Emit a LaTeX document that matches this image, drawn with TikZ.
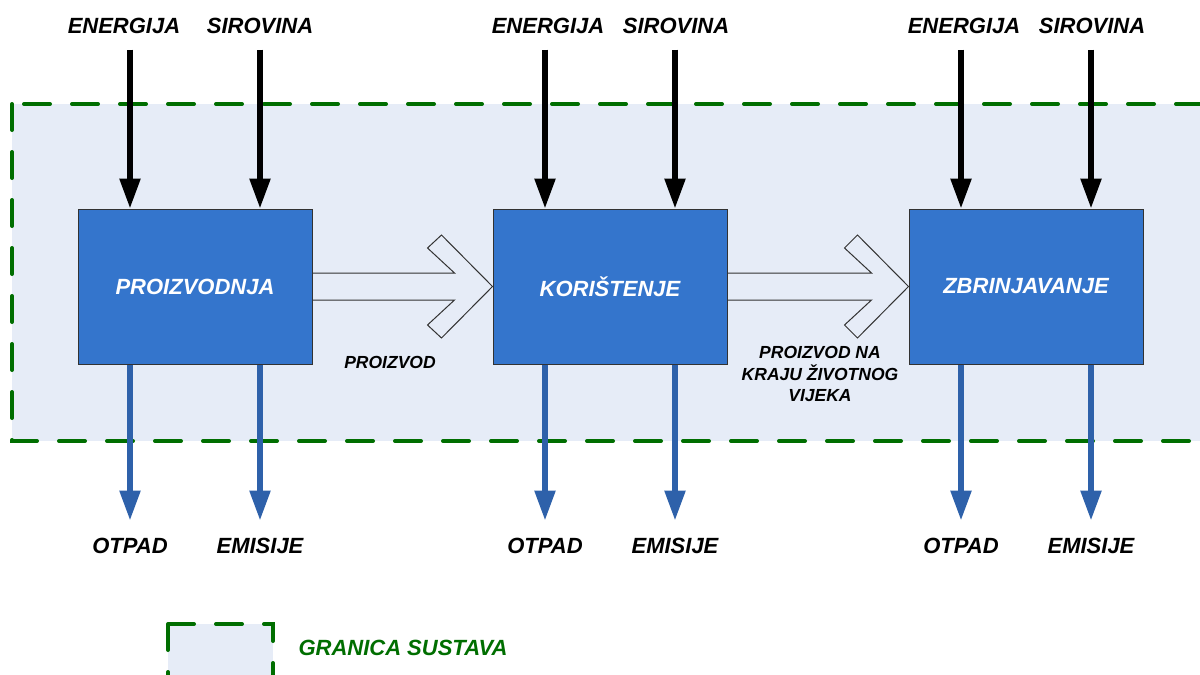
\documentclass[tikz,border=0pt]{standalone}
\usepackage{fontspec}
\setmainfont{Liberation Sans}
\usetikzlibrary{arrows.meta,calc}
\definecolor{bgblue}{RGB}{230,236,247}
\definecolor{boxblue}{RGB}{52,117,204}
\definecolor{outblue}{RGB}{46,97,170}
\definecolor{sysgreen}{RGB}{0,110,0}
\definecolor{edgegray}{RGB}{50,50,50}
\begin{document}
\begin{tikzpicture}[x=1pt,y=-1pt,
 big/.style={font=\fontsize{22}{25}\selectfont\bfseries\itshape},
 small/.style={font=\fontsize{17.5}{21.5}\selectfont\bfseries\itshape, align=center},
 proc/.style={draw=edgegray, line width=1pt, fill=boxblue, minimum width=234pt, minimum height=155pt, inner sep=0pt, text=white, big},
 inarrow/.style={line width=5.5pt, draw=black, -{Triangle[width=20pt,length=30pt]}},
 outarrow/.style={line width=5.5pt, draw=outblue, -{Triangle[width=20pt,length=30pt]}},
 boundary/.style={draw=sysgreen, line width=4pt, line cap=round, dash pattern=on 26pt off 22pt, fill=bgblue},
]
\useasboundingbox (0,0) rectangle (1200,675);
\clip (0,0) rectangle (1200,675);

% system boundary
\draw[boundary] (12,104) rectangle (1230,441);
% legend
\draw[boundary] (168,624) rectangle (273,700);
\node[big, text=sysgreen] (leg) at (403,648) {GRANICA SUSTAVA};

% process boxes
\node[proc] (p1) at (195,286.5) {PROIZVODNJA};
\node[proc] (p2) at (610,286.5) {KORIŠTENJE};
\node[proc] (p3) at (1026,286.5) {ZBRINJAVANJE};

% hollow flow arrows
\foreach \a/\b/\bl/\cl in {p1/p2/38/65, p2/p3/37/64}{
  \fill[bgblue] ($(\a.east)+(0,-13.5)$) -- ($(\b.west)+(-\bl,-13.5)$) -- ($(\b.west)+(-\cl,-38.5)$) -- ($(\b.west)+(-51,-51.5)$) -- (\b.west) -- ($(\b.west)+(-51,51.5)$) -- ($(\b.west)+(-\cl,38.5)$) -- ($(\b.west)+(-\bl,13.5)$) -- ($(\a.east)+(0,13.5)$) -- cycle;
  \draw[draw=edgegray, line width=1pt, line join=miter] ($(\a.east)+(0,-13.5)$) -- ($(\b.west)+(-\bl,-13.5)$) -- ($(\b.west)+(-\cl,-38.5)$) -- ($(\b.west)+(-51,-51.5)$) -- (\b.west) -- ($(\b.west)+(-51,51.5)$) -- ($(\b.west)+(-\cl,38.5)$) -- ($(\b.west)+(-\bl,13.5)$) -- ($(\a.east)+(0,13.5)$);
}
% redraw boxes on top
\node[proc] at (p1) {PROIZVODNJA};
\node[proc] at (p2) {KORIŠTENJE};
\node[proc] at (p3) {ZBRINJAVANJE};

\node[small] (f1) at (390,362) {PROIZVOD};
\node[small] (f2) at (820,374) {PROIZVOD NA\\KRAJU ŽIVOTNOG\\VIJEKA};

% inputs and outputs
\foreach \p/\ex/\sx in {p1/124/260, p2/548/676, p3/964/1092}{
  \node[big] (\p en) at (\ex,26) {ENERGIJA};
  \node[big] (\p si) at (\sx,26) {SIROVINA};
  \coordinate (\p a) at ([xshift=-65pt]\p.north);
  \coordinate (\p b) at ([xshift=65pt]\p.north);
  \coordinate (\p a0) at ($(\p a)+(0,-159)$);
  \coordinate (\p b0) at ($(\p b)+(0,-159)$);
  \draw[inarrow] (\p a0) -- (\p a);
  \draw[inarrow] (\p b0) -- (\p b);
  \coordinate (\p c) at ([xshift=-65pt]\p.south);
  \coordinate (\p d) at ([xshift=65pt]\p.south);
  \coordinate (\p c1) at ($(\p c)+(0,156)$);
  \coordinate (\p d1) at ($(\p d)+(0,156)$);
  \draw[outarrow] (\p c) -- (\p c1);
  \draw[outarrow] (\p d) -- (\p d1);
  \node[big] (\p ot) at ($(\p c)+(0,181)$) {OTPAD};
  \node[big] (\p em) at ($(\p d)+(0,181)$) {EMISIJE};
}
\end{tikzpicture}
\end{document}
